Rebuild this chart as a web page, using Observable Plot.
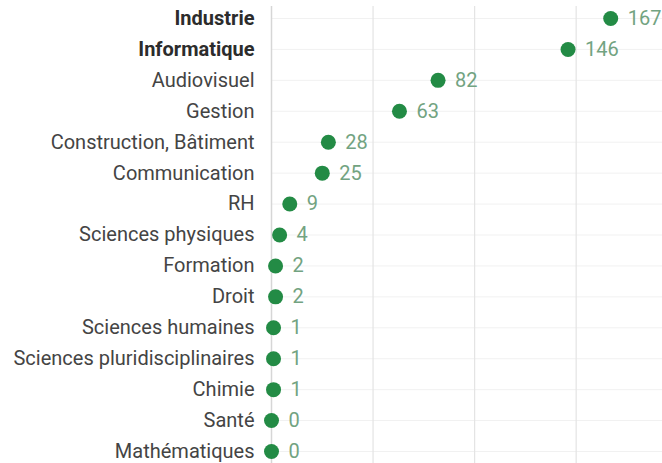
<!DOCTYPE html>
<html>
<head>
<meta charset="utf-8">
<script src="https://cdn.jsdelivr.net/npm/d3@7"></script>
<script src="https://cdn.jsdelivr.net/npm/@observablehq/plot@0.6"></script>
<style>
  html, body { margin: 0; padding: 0; background: #fff; }
  #chart svg { display: block; }
</style>
</head>
<body>
<div id="chart"></div>
<script>
const categories = ["Industrie", "Informatique", "Audiovisuel", "Gestion", "Construction, Bâtiment", "Communication", "RH", "Sciences physiques", "Formation", "Droit", "Sciences humaines", "Sciences pluridisciplinaires", "Chimie", "Santé", "Mathématiques"];
const values = [167, 146, 82, 63, 28, 25, 9, 4, 2, 2, 1, 1, 1, 0, 0];
const boldCategories = ["Industrie", "Informatique"];
const gridTicks = [50, 100, 150];

const data = categories.map((c, i) => ({category: c, value: values[i], bold: boldCategories.includes(c)}));

const chart = Plot.plot({
  width: 662,
  height: 463,
  marginLeft: 271,
  marginRight: 0,
  marginTop: 6,
  marginBottom: 0,
  style: {fontFamily: "Roboto, sans-serif", background: "#fff"},
  x: {domain: [0, 192.5], axis: null},
  y: {domain: categories, axis: null, padding: 0.388, round: false},
  marks: [
    Plot.ruleY(categories, {y: d => d, stroke: "#f1f1f1", strokeWidth: 1}),
    Plot.ruleX(gridTicks, {stroke: "#e4e4e4", strokeWidth: 1.2}),
    Plot.ruleX([0], {stroke: "#d6d6d6", strokeWidth: 1.5}),
    Plot.text(data.filter(d => !d.bold), {x: () => 0, y: "category", text: "category", textAnchor: "end", dx: -17, fontSize: 20, fill: "#444444"}),
    Plot.text(data.filter(d => d.bold), {x: () => 0, y: "category", text: "category", textAnchor: "end", dx: -17, fontSize: 20, fontWeight: "bold", fill: "#2c2c2c"}),
    Plot.dot(data, {x: "value", y: "category", r: 7.5, fill: "#238b45", stroke: "none"}),
    Plot.text(data, {x: "value", y: "category", text: d => String(d.value), textAnchor: "start", dx: 17, fontSize: 20, fill: "#72a381"})
  ]
});
document.getElementById("chart").appendChild(chart);
</script>
</body>
</html>
